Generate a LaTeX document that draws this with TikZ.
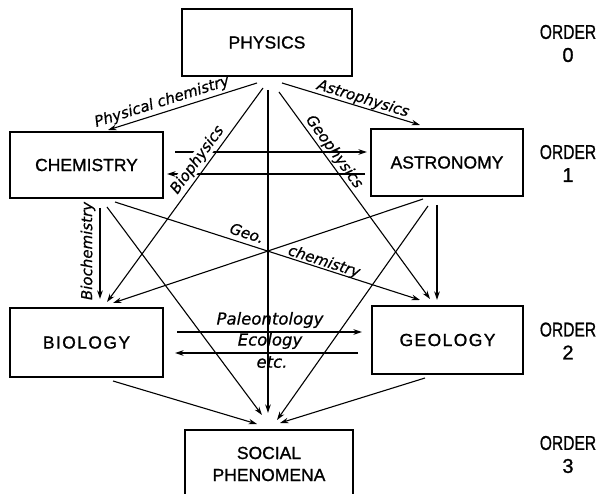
\documentclass[tikz,border=0pt]{standalone}
\usepackage{fontspec}
\setmainfont{Liberation Sans}[FakeBold=1]
\newfontfamily\labfont{DejaVu Sans}[FakeBold=0.6]
\usetikzlibrary{arrows.meta}
\newcommand{\lsp}{\kern1.4pt}
\begin{document}
\begin{tikzpicture}[x=1pt,y=-1pt,
  box/.style={draw, line width=1.5pt, inner sep=0pt, font=\fontsize{17.5}{22}\selectfont},
  arr/.style={line width=1.1pt, -{Stealth[length=8.5pt,width=5.5pt]}},
  lab/.style={font=\labfont\itshape\fontsize{15}{18}\selectfont, inner sep=0.5pt},
  hlab/.style={font=\labfont\itshape\fontsize{16.5}{19}\selectfont, inner sep=0.5pt},
  ord/.style={align=center, font=\fontsize{20}{23}\selectfont}]
\clip (0,0) rectangle (605,494);
% boxes
\node[box, minimum width=170pt, minimum height=67pt] (phys) at (267,42.5) {PHYSICS};
\node[box, minimum width=153pt, minimum height=66pt] (chem) at (86.5,165) {CHEMISTRY};
\node[box, minimum width=152pt, minimum height=67pt] (astro) at (447,162.5) {ASTRONOMY};
\node[box, minimum width=153pt, minimum height=69pt] (bio) at (86.5,342.5) {B\lsp I\lsp O\lsp L\lsp O\lsp G\lsp Y};
\node[box, minimum width=151pt, minimum height=68pt] (geo) at (447.5,340) {G\lsp E\lsp O\lsp L\lsp O\lsp G\lsp Y};
\node[box, minimum width=168pt, minimum height=80pt] (soc) at (269,470) {};
\node[font=\fontsize{17.5}{22}\selectfont, align=center] (soctext) at (269,464) {SOCIAL\\PHENOMENA};
% order labels
\node[ord] (o0) at (568,43.5) {\scalebox{0.78}[1]{ORDER}\\0};
\node[ord] (o1) at (568,163.5) {\scalebox{0.78}[1]{ORDER}\\1};
\node[ord] (o2) at (568,341) {\scalebox{0.78}[1]{ORDER}\\2};
\node[ord] (o3) at (568,454.5) {\scalebox{0.78}[1]{ORDER}\\3};
% connectors
\draw[arr] ([shift={(-10,40.5)}]phys.center) -- ([shift={(21.5,-35)}]chem.center);
\draw[arr] ([shift={(15,40.5)}]phys.center) -- ([shift={(-27,-37.5)}]astro.center);
\draw[arr] ([shift={(-4,45.5)}]phys.center) -- ([shift={(20.5,-40.5)}]bio.center);
\draw[arr] ([shift={(1,47.5)}]phys.center) -- ([shift={(-1,-57)}]soc.center);
\draw[arr] ([shift={(12,49.5)}]phys.center) -- ([shift={(-17.5,-41)}]geo.center);
\draw[arr] ([shift={(88.5,-13)}]chem.center) -- ([shift={(-80,-10.5)}]astro.center);
\draw[arr] ([shift={(-82,11.5)}]astro.center) -- ([shift={(80.5,9)}]chem.center);
\draw[arr] ([shift={(13.5,43)}]chem.center) -- ([shift={(13.5,-43.5)}]bio.center);
\draw[arr] ([shift={(28.5,37)}]chem.center) -- ([shift={(-27.5,-40)}]geo.center);
\draw[arr] ([shift={(20.5,42)}]chem.center) -- ([shift={(-7,-55)}]soc.center);
\draw[arr] ([shift={(-24,36.5)}]astro.center) -- ([shift={(26.5,-39.5)}]bio.center);
\draw[arr] ([shift={(-10,42.5)}]astro.center) -- ([shift={(-10.5,-40)}]geo.center);
\draw[arr] ([shift={(-19,43.5)}]astro.center) -- ([shift={(8,-50)}]soc.center);
\draw[arr] ([shift={(90.5,-10.5)}]bio.center) -- ([shift={(-85.5,-8)}]geo.center);
\draw[arr] ([shift={(-89.5,13)}]geo.center) -- ([shift={(88.5,10.5)}]bio.center);
\draw[arr] ([shift={(26.5,38.5)}]bio.center) -- ([shift={(-12,-46)}]soc.center);
\draw[arr] ([shift={(-22.5,38)}]geo.center) -- ([shift={(11,-47)}]soc.center);
% labels
\node[lab, rotate=17.5] (lpc) at (162,102) {Physical chemistry};
\node[lab, rotate=-17] (lap) at (363,99) {Astrophysics};
\node[lab, rotate=54, fill=white] (lbp) at (197.5,160) {Biophysics};
\node[lab, rotate=-54] (lgp) at (334,152) {Geophysics};
\node[lab, rotate=90] (lbc) at (88,251) {Biochemistry};
\node[lab, rotate=-17.8] (lg1) at (247,233) {Geo.};
\node[lab, rotate=-17.8] (lg2) at (324,262) {chemistry};
\node[hlab] (lpa) at (270,320) {Paleontology};
\node[hlab] (lec) at (270,341) {Ecology};
\node[hlab] (let) at (272,362) {etc.};
\end{tikzpicture}
\end{document}
